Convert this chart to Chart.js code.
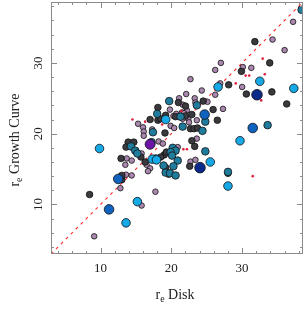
<!DOCTYPE html>
<html>
<head>
<meta charset="utf-8">
<script src="https://cdn.jsdelivr.net/npm/chart.js@4.4.1/dist/chart.umd.min.js"></script>
<style>
  html, body { margin: 0; padding: 0; background: #fff; }
  #wrap { width: 305px; height: 318px; }
</style>
</head>
<body>
<div id="wrap"><canvas id="scatter" width="305" height="318"></canvas></div>
<script>
// r_e values, one pair of arrays per colour group
var darkX = [31.8, 33.9, 29.9, 28.1, 30.6, 34.2, 36.3, 21.0, 24.5, 22.0, 25.9, 18.1, 22.0, 22.9, 20.6, 26.5, 22.7, 23.2, 23.7, 22.9, 23.3, 17.0, 18.1, 18.5, 19.2, 13.9, 14.7, 13.6, 19.1, 12.9, 16.3, 19.2, 22.6, 15.7, 13.0, 13.0, 8.45, 28.0, 19.0, 19.3, 18.5];
var darkY = [33.0, 30.0, 28.8, 26.9, 25.6, 25.9, 24.2, 24.4, 24.6, 23.9, 23.4, 23.7, 22.5, 22.7, 22.4, 21.9, 20.7, 20.7, 20.8, 19.0, 18.2, 22.0, 21.9, 22.1, 22.6, 18.8, 18.8, 18.1, 20.1, 16.5, 16.0, 15.2, 15.4, 16.7, 13.5, 14.1, 11.4, 14.4, 17.0, 17.4, 16.7];

var mauveX = [37.2, 34.3, 36.0, 27.0, 30.1, 31.3, 26.2, 22.7, 26.9, 30.0, 24.3, 22.1, 26.2, 21.1, 23.3, 23.4, 25.1, 21.6, 19.8, 27.3, 22.2, 20.3, 20.7, 21.6, 22.4, 22.5, 23.6, 20.9, 15.3, 16.0, 16.1, 16.1, 17.3, 18.2, 18.8, 15.8, 13.7, 14.4, 13.5, 16.5, 17.0, 16.7, 19.6, 12.8, 13.6, 14.4, 15.8, 9.1, 17.75, 22.7, 23.4, 23.6, 19.9, 20.4, 21.5, 21.8];
var mauveY = [35.8, 33.3, 31.8, 30.0, 29.4, 29.3, 29.0, 27.7, 27.1, 26.6, 26.1, 25.6, 25.5, 25.0, 25.0, 24.4, 24.5, 24.1, 23.4, 23.5, 23.3, 22.5, 22.8, 22.1, 22.1, 21.6, 19.3, 18.1, 21.4, 20.9, 20.3, 19.7, 20.6, 18.9, 18.6, 17.2, 16.5, 16.2, 15.6, 15.6, 15.1, 14.7, 14.2, 12.3, 14.2, 14.1, 9.85, 5.5, 11.8, 16.05, 16.3, 21.9, 21.1, 20.8, 23.0, 22.9];

var tealX = [38.4, 19.7, 23.6, 18.0, 21.3, 24.8, 21.6, 24.4, 33.6, 24.8, 20.2, 20.6, 19.9, 20.1, 20.9, 20.3, 19.2, 19.8, 20.6, 28.0, 17.4, 17.2, 14.3, 14.9, 15.2, 17.8, 18.9];
var tealY = [37.5, 24.6, 24.0, 22.8, 22.4, 21.7, 21.0, 20.4, 21.2, 17.5, 18.0, 17.6, 17.4, 16.9, 16.2, 15.4, 14.5, 14.4, 14.1, 14.6, 20.2, 18.8, 18.2, 17.6, 17.2, 16.5, 15.5];

var cyanX = [32.5, 26.6, 37.3, 19.2, 29.7, 9.85, 17.3, 17.9, 25.5, 28.0, 15.2, 13.6];
var cyanY = [27.4, 26.6, 26.4, 22.0, 19.0, 17.9, 16.4, 16.3, 16.0, 12.6, 10.4, 7.4];

var blueX = [24.7, 31.5, 11.2, 12.5];
var blueY = [22.7, 20.8, 9.3, 13.6];

var navyX = [32.1, 24.05];
var navyY = [25.5, 15.2];

var purpleX = [17.0];
var purpleY = [18.5];

var redX = [32.9, 33.2, 30.5, 31.0, 29.1, 32.7, 31.5, 14.5, 16.3, 21.7, 22.2, 21.4, 18.7];
var redY = [30.6, 28.4, 28.2, 28.2, 27.1, 24.7, 14.0, 22.0, 21.7, 17.8, 17.8, 23.2, 21.3];

var axisMin = 3;
var axisMax = 38.6;
var majorTicks = [10, 20, 30];
var xTitle = ["r", "e", " Disk"];
var yTitle = ["r", "e", " Growth Curve"];

function pts(xs, ys) {
    return xs.map(function (x, i) { return {x: x, y: ys[i]}; });
}

function group(xs, ys, fill, r, order) {
    return {
        data: pts(xs, ys),
        backgroundColor: fill,
        borderColor: "#111",
        borderWidth: 0.8,
        pointRadius: r,
        order: order
    };
}

// frame, inward ticks, rotated y labels and subscript titles
var framePlugin = {
    id: "frame",
    afterDraw: function (chart) {
        var ctx = chart.ctx;
        var a = chart.chartArea;
        var xs = chart.scales.x, ys = chart.scales.y;
        ctx.save();
        ctx.strokeStyle = "#8a8a8a";
        ctx.lineWidth = 1;
        ctx.strokeRect(a.left + 0.5, a.top + 0.5, a.right - a.left - 1, a.bottom - a.top - 1);
        ctx.beginPath();
        for (var v = 4; v <= axisMax; v += 2) {
            var len = (v % 10 === 0) ? 6 : 3;
            var px = Math.round(xs.getPixelForValue(v)) + 0.5;
            ctx.moveTo(px, a.bottom); ctx.lineTo(px, a.bottom - len);
            ctx.moveTo(px, a.top); ctx.lineTo(px, a.top + len);
            var py = Math.round(ys.getPixelForValue(v)) + 0.5;
            ctx.moveTo(a.left, py); ctx.lineTo(a.left + len, py);
            ctx.moveTo(a.right, py); ctx.lineTo(a.right - len, py);
        }
        ctx.stroke();

        ctx.fillStyle = "#222";
        ctx.font = "13px 'Liberation Serif'";
        ctx.textAlign = "center";
        ctx.textBaseline = "alphabetic";
        majorTicks.forEach(function (t) {
            ctx.fillText(String(t), xs.getPixelForValue(t), a.bottom + 18);
            ctx.save();
            ctx.translate(a.left - 9, ys.getPixelForValue(t));
            ctx.rotate(-Math.PI / 2);
            ctx.fillText(String(t), 0, 0);
            ctx.restore();
        });

        function subText(parts, cx, cy) {
            ctx.font = "14px 'Liberation Serif'";
            var w1 = ctx.measureText(parts[0]).width;
            var w3 = ctx.measureText(parts[2]).width;
            ctx.font = "10px 'Liberation Serif'";
            var w2 = ctx.measureText(parts[1]).width;
            var x0 = cx - (w1 + w2 + w3) / 2;
            ctx.textAlign = "left";
            ctx.font = "14px 'Liberation Serif'";
            ctx.fillText(parts[0], x0, cy);
            ctx.font = "10px 'Liberation Serif'";
            ctx.fillText(parts[1], x0 + w1, cy + 3);
            ctx.font = "14px 'Liberation Serif'";
            ctx.fillText(parts[2], x0 + w1 + w2, cy);
        }
        subText(xTitle, (a.left + a.right) / 2 - 2, a.bottom + 45);
        ctx.save();
        ctx.translate(19, 140);
        ctx.rotate(-Math.PI / 2);
        subText(yTitle, 0, 0);
        ctx.restore();
        ctx.restore();
    }
};

var config = {
    type: "scatter",
    data: {
        datasets: [
            {
                type: "line",
                data: [{x: axisMin, y: axisMin}, {x: axisMax, y: axisMax}],
                borderColor: "#ff2a2a",
                borderWidth: 1.1,
                borderDash: [3, 4],
                pointRadius: 0,
                fill: false,
                order: 20
            },
            group(mauveX, mauveY, "#a987ae", 2.8, 9),
            group(darkX, darkY, "#3a3a3e", 3.3, 8),
            group(tealX, tealY, "#1f7c9c", 3.8, 7),
            group(cyanX, cyanY, "#17a8e6", 4.3, 6),
            group(blueX, blueY, "#0f62bd", 4.8, 5),
            group(navyX, navyY, "#0b2a8a", 5.3, 4),
            group(purpleX, purpleY, "#6c14a8", 5, 3),
            {
                data: pts(redX, redY),
                backgroundColor: "#e0203c",
                borderWidth: 0,
                pointRadius: 1.3,
                order: 1
            }
        ]
    },
    options: {
        responsive: false,
        animation: false,
        layout: {autoPadding: false, padding: {left: 43, right: 2, top: 2, bottom: 56}},
        plugins: {legend: {display: false}, tooltip: {enabled: false}},
        scales: {
            x: {type: "linear", min: axisMin, max: axisMax,
                grid: {display: false}, border: {display: false}, ticks: {display: false}},
            y: {type: "linear", min: axisMin, max: axisMax,
                grid: {display: false}, border: {display: false}, ticks: {display: false}}
        }
    },
    plugins: [framePlugin]
};

var chart = new Chart(document.getElementById("scatter"), config);
</script>
</body>
</html>
